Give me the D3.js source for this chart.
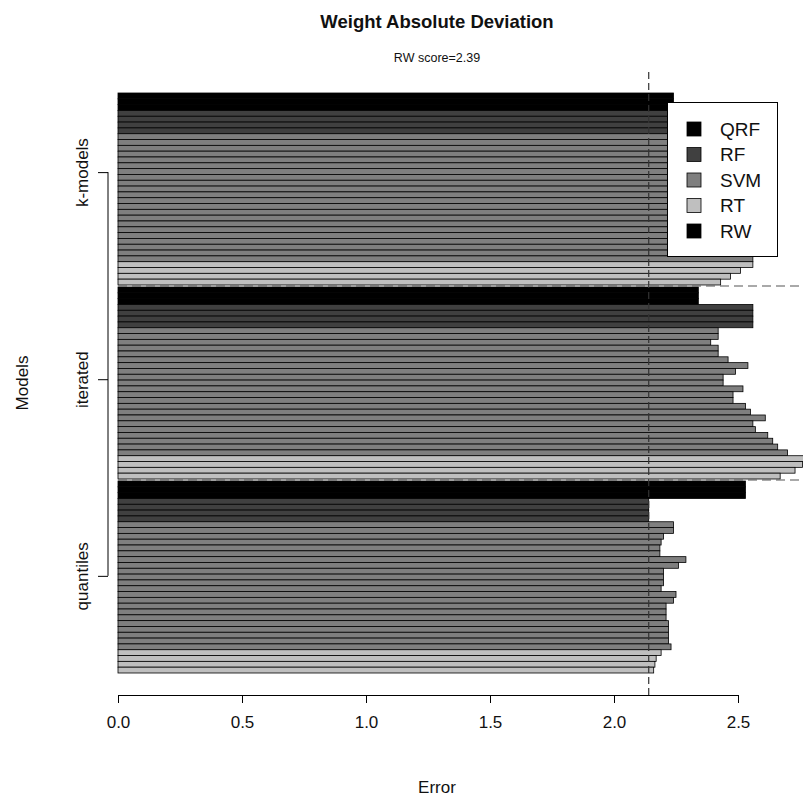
<!DOCTYPE html>
<html>
<head>
<meta charset="utf-8">
<script src="https://cdn.jsdelivr.net/npm/d3@7"></script>
<style>
  html, body { margin: 0; padding: 0; background: #fff; }
  svg { display: block; font-family: "Liberation Sans", Arial, Helvetica, sans-serif; }
</style>
</head>
<body>
<svg id="chart" width="803" height="800"></svg>
<script>
// ---- data (values listed top to bottom within each group) ----
const groupNames = ["k-models", "iterated", "quantiles"];
const modelNames = ["QRF", "RF", "SVM", "RT", "RW"];
const modelColors = ["#000000", "#404040", "#7f7f7f", "#bfbfbf", "#000000"];

const kmodelsQRF = [2.24, 2.24, 2.24];
const kmodelsRF = [2.45, 2.45, 2.45, 2.45];
const kmodelsSVM = [2.40, 2.42, 2.41, 2.44, 2.43, 2.45, 2.42, 2.46, 2.44, 2.47, 2.45,
                    2.48, 2.46, 2.49, 2.50, 2.48, 2.51, 2.52, 2.53, 2.54, 2.55, 2.56];
const kmodelsRT = [2.56, 2.51, 2.47, 2.43];

const iteratedQRF = [2.34, 2.34, 2.34];
const iteratedRF = [2.56, 2.56, 2.56, 2.56];
const iteratedSVM = [2.42, 2.42, 2.39, 2.42, 2.42, 2.46, 2.54, 2.49, 2.44, 2.44, 2.52,
                     2.48, 2.48, 2.53, 2.55, 2.61, 2.56, 2.57, 2.62, 2.64, 2.66, 2.70];
const iteratedRT = [2.78, 2.76, 2.73, 2.67];

const quantilesQRF = [2.53, 2.53, 2.53];
const quantilesRF = [2.14, 2.14, 2.14, 2.14];
const quantilesSVM = [2.24, 2.24, 2.20, 2.19, 2.185, 2.185, 2.29, 2.26, 2.20, 2.20, 2.20,
                      2.19, 2.25, 2.24, 2.21, 2.21, 2.21, 2.22, 2.22, 2.22, 2.22, 2.23];
const quantilesRT = [2.19, 2.17, 2.165, 2.16];

const xTicks = [0, 0.5, 1.0, 1.5, 2.0, 2.5];
const referenceLine = 2.14;          // vertical dashed line
const groupTickAt = [13.6, 49.2, 83.0]; // category tick positions, in bar units from top
const titleText = "Weight Absolute Deviation";
const subtitleText = "RW score=2.39";
const xLabel = "Error";
const yLabel = "Models";

// ---- build bar list ----
const groupData = [
  [kmodelsQRF, kmodelsRF, kmodelsSVM, kmodelsRT],
  [iteratedQRF, iteratedRF, iteratedSVM, iteratedRT],
  [quantilesQRF, quantilesRF, quantilesSVM, quantilesRT]
];
const groupGap = 0.35;
const bars = [];
const groupBounds = [];
let pos = 0;
groupData.forEach((models, gi) => {
  const start = pos;
  models.forEach((vals, mi) => {
    vals.forEach(v => { bars.push({ pos: pos, value: v, model: mi, group: gi }); pos += 1; });
  });
  groupBounds.push([start, pos]);
  if (gi < groupData.length - 1) pos += groupGap;
});
const totalUnits = pos;

// ---- scales ----
const svg = d3.select("#chart");
const x = d3.scaleLinear().domain([0, 2.5]).range([118, 738]);
const y = d3.scaleLinear().domain([0, totalUnits]).range([93, 673]);

// ---- bars ----
svg.append("g").selectAll("rect").data(bars).join("rect")
  .attr("x", x(0))
  .attr("y", d => y(d.pos))
  .attr("width", d => x(d.value) - x(0))
  .attr("height", d => y(d.pos + 1) - y(d.pos))
  .attr("fill", d => modelColors[d.model])
  .attr("stroke", "#000")
  .attr("stroke-width", 0.8);

// ---- vertical reference dashed line ----
svg.append("line")
  .attr("x1", x(referenceLine)).attr("x2", x(referenceLine))
  .attr("y1", 72).attr("y2", 695)
  .attr("stroke", "#333").attr("stroke-width", 1.2)
  .attr("stroke-dasharray", "7,4");

// ---- horizontal group separators ----
for (let i = 0; i < groupBounds.length - 1; i++) {
  const yy = y((groupBounds[i][1] + groupBounds[i + 1][0]) / 2);
  svg.append("line")
    .attr("x1", x(0)).attr("x2", 803)
    .attr("y1", yy).attr("y2", yy)
    .attr("stroke", "#555").attr("stroke-width", 1.2)
    .attr("stroke-dasharray", "9,5");
}

// ---- x axis ----
const xAxis = svg.append("g")
  .attr("transform", "translate(0,695)")
  .call(d3.axisBottom(x).tickValues(xTicks).tickFormat(d3.format(".1f")).tickSize(8).tickSizeOuter(0));
xAxis.select(".domain").attr("stroke", "#000");
xAxis.selectAll(".tick line").attr("stroke", "#000");
xAxis.selectAll(".tick text").attr("font-size", 17).attr("fill", "#111")
  .attr("font-family", "Liberation Sans, Arial, sans-serif")
  .attr("y", 21).attr("dy", "0.71em");

// ---- y axis (categories) ----
const yAxis = svg.append("g")
  .attr("transform", "translate(108,0)")
  .call(d3.axisLeft(y).tickValues(groupTickAt).tickFormat((d, i) => groupNames[i]).tickSize(10));
yAxis.select(".domain").remove();
yAxis.append("line")
  .attr("x1", 0).attr("x2", 0)
  .attr("y1", y(groupTickAt[0])).attr("y2", y(groupTickAt[groupTickAt.length - 1]))
  .attr("stroke", "#000");
yAxis.selectAll(".tick line").attr("stroke", "#000");
yAxis.selectAll(".tick text")
  .attr("font-size", 17).attr("fill", "#111")
  .attr("font-family", "Liberation Sans, Arial, sans-serif")
  .attr("x", null).attr("dy", null)
  .attr("text-anchor", "middle")
  .attr("transform", "translate(-20,0) rotate(-90)")
  .attr("y", 0);

// ---- titles ----
svg.append("text").attr("x", 437).attr("y", 28)
  .attr("text-anchor", "middle").attr("font-size", 18.5).attr("font-weight", "bold")
  .attr("fill", "#111").text(titleText);
svg.append("text").attr("x", 437).attr("y", 62)
  .attr("text-anchor", "middle").attr("font-size", 12.5)
  .attr("fill", "#111").text(subtitleText);
svg.append("text").attr("x", 437).attr("y", 793)
  .attr("text-anchor", "middle").attr("font-size", 17)
  .attr("fill", "#111").text(xLabel);
svg.append("text")
  .attr("transform", "translate(28,383) rotate(-90)")
  .attr("text-anchor", "middle").attr("font-size", 17)
  .attr("fill", "#111").text(yLabel);

// ---- legend ----
const legend = svg.append("g");
legend.append("rect")
  .attr("x", 667.5).attr("y", 102.5).attr("width", 110).attr("height", 154)
  .attr("fill", "#fff").attr("stroke", "#000").attr("stroke-width", 1);
const legendRow = d3.scaleLinear().domain([0, modelNames.length - 1]).range([129, 231]);
modelNames.forEach((name, i) => {
  legend.append("rect")
    .attr("x", 687).attr("y", legendRow(i) - 7).attr("width", 14).attr("height", 14)
    .attr("fill", modelColors[i]).attr("stroke", "#000").attr("stroke-width", 0.8);
  legend.append("text")
    .attr("x", 720).attr("y", legendRow(i))
    .attr("dominant-baseline", "central")
    .attr("font-size", 19).attr("fill", "#111").text(name);
});
</script>
</body>
</html>
